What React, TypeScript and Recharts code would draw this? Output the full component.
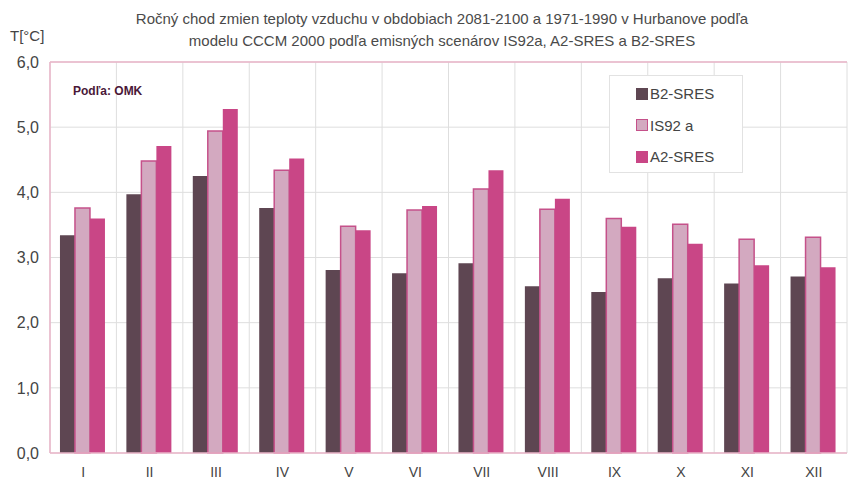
import React from 'react';
import { BarChart, Bar, XAxis, YAxis, CartesianGrid, ReferenceLine } from 'recharts';

const months = ['I', 'II', 'III', 'IV', 'V', 'VI', 'VII', 'VIII', 'IX', 'X', 'XI', 'XII'];
const b2Sres = [3.34, 3.97, 4.25, 3.76, 2.81, 2.76, 2.91, 2.56, 2.47, 2.68, 2.6, 2.71];
const is92a = [3.76, 4.48, 4.94, 4.34, 3.48, 3.73, 4.05, 3.74, 3.6, 3.51, 3.28, 3.31];
const a2Sres = [3.6, 4.71, 5.28, 4.52, 3.42, 3.79, 4.34, 3.9, 3.47, 3.21, 2.88, 2.85];
const yTicks = [0, 1, 2, 3, 4, 5, 6];

const seriesNames = ['B2-SRES', 'IS92 a', 'A2-SRES'];
const colors = { b2: '#5e4652', is: '#d3a9c0', isStroke: '#c5518a', a2: '#c94686' };

const data = months.map((m, i) => ({ month: m, b2: b2Sres[i], is: is92a[i], a2: a2Sres[i] }));

const FONT = '"Liberation Sans", Arial, sans-serif';

const LegendBox = () => (
  <div
    style={{
      position: 'absolute',
      left: 609,
      top: 75,
      width: 134,
      height: 98,
      background: '#fff',
      border: '1px solid #e2e2e2',
      boxSizing: 'border-box',
      fontFamily: FONT,
      fontSize: 15,
      color: '#444',
      paddingTop: 2,
    }}
  >
    {[
      { name: seriesNames[0], fill: colors.b2, stroke: colors.b2 },
      { name: seriesNames[1], fill: colors.is, stroke: colors.isStroke },
      { name: seriesNames[2], fill: colors.a2, stroke: colors.a2 },
    ].map((it) => (
      <div key={it.name} style={{ display: 'flex', alignItems: 'center', height: 31.5, paddingLeft: 26 }}>
        <span
          style={{
            display: 'inline-block',
            width: 12,
            height: 12,
            background: it.fill,
            border: `1.5px solid ${it.stroke}`,
            boxSizing: 'border-box',
            marginRight: 2,
          }}
        />
        <span>{it.name}</span>
      </div>
    ))}
  </div>
);

export default function App() {
  return (
    <div style={{ position: 'absolute', left: 0, top: 0, width: 848, height: 481, background: '#fff', fontFamily: FONT }}>
      <BarChart
        width={848}
        height={481}
        data={data}
        margin={{ top: 62, right: 1, bottom: 0, left: 0 }}
        barCategoryGap="15%"
        barGap={0}
      >
        <CartesianGrid
          stroke="#dedede"
          verticalCoordinatesGenerator={({ offset }: any) =>
            months.map((_, i) => offset.left + (i * offset.width) / months.length).concat([offset.left + offset.width])
          }
        />
        <ReferenceLine y={6} stroke="#eab5c9" strokeWidth={1.5} />
        <XAxis
          dataKey="month"
          height={28}
          axisLine={{ stroke: '#eab5c9', strokeWidth: 1.5 }}
          tickLine={false}
          tick={{ fill: '#444', fontSize: 14, fontFamily: FONT, dy: 6 }}
          interval={0}
        />
        <YAxis
          width={50}
          domain={[0, 6]}
          ticks={yTicks}
          axisLine={{ stroke: '#eab5c9', strokeWidth: 1.5 }}
          tickLine={false}
          tick={{ fill: '#444', fontSize: 16, fontFamily: FONT, dx: -3 }}
          tickFormatter={(v: number) => v.toFixed(1).replace('.', ',')}
        />
        <Bar dataKey="b2" name={seriesNames[0]} fill={colors.b2} isAnimationActive={false} />
        <Bar dataKey="is" name={seriesNames[1]} fill={colors.is} stroke={colors.isStroke} strokeWidth={1.5} isAnimationActive={false} />
        <Bar dataKey="a2" name={seriesNames[2]} fill={colors.a2} isAnimationActive={false} />
      </BarChart>
      <div
        style={{
          position: 'absolute',
          left: 0,
          width: 884,
          top: 8,
          textAlign: 'center',
          fontSize: 15,
          lineHeight: '22px',
          color: '#4a4a4a',
        }}
      >
        Ročný chod zmien teploty vzduchu v obdobiach 2081-2100 a 1971-1990 v Hurbanove podľa
        <br />
        modelu CCCM 2000 podľa emisných scenárov IS92a, A2-SRES a B2-SRES
      </div>
      <div style={{ position: 'absolute', left: 10, top: 27, fontSize: 15, color: '#444' }}>T[°C]</div>
      <div style={{ position: 'absolute', left: 73, top: 84, fontSize: 12, fontWeight: 'bold', color: '#4a1838' }}>
        Podľa: OMK
      </div>
      <LegendBox />
    </div>
  );
}
